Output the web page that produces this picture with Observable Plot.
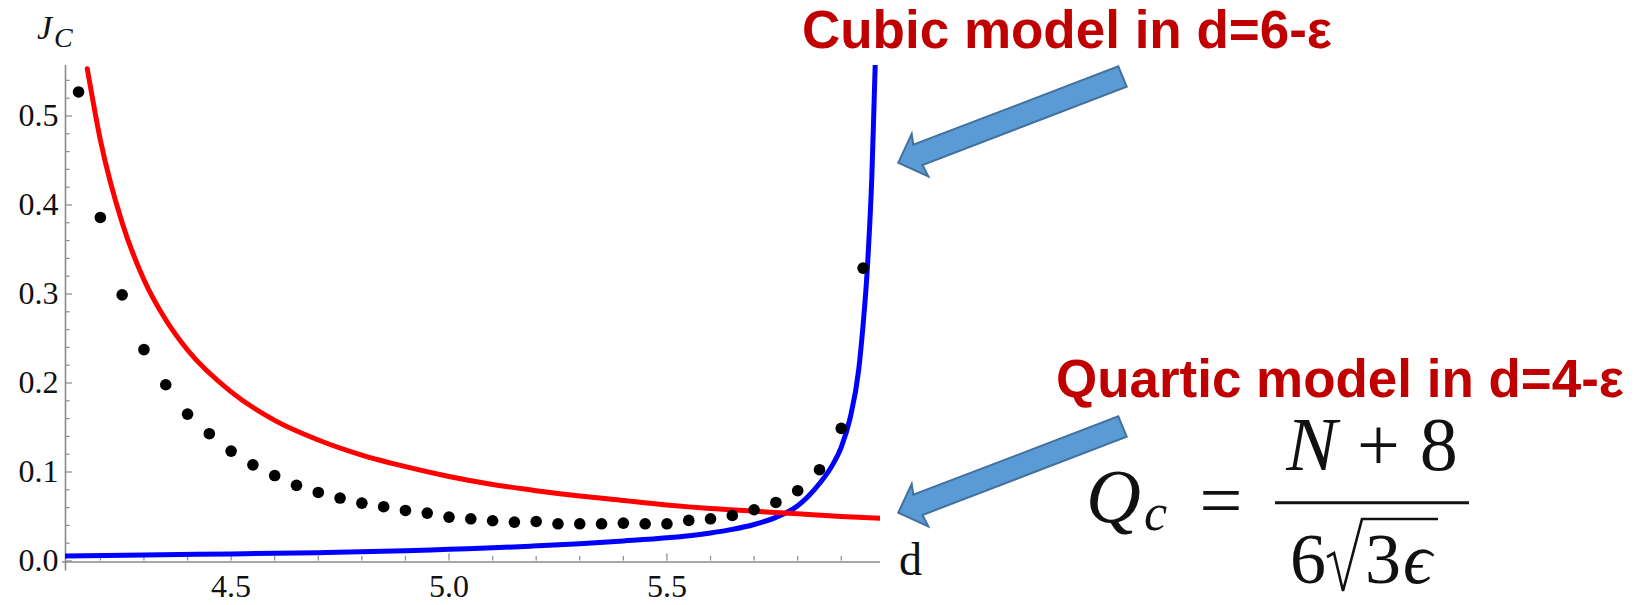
<!DOCTYPE html>
<html>
<head>
<meta charset="utf-8">
<script src="https://cdn.jsdelivr.net/npm/d3@7"></script>
<script src="https://cdn.jsdelivr.net/npm/@observablehq/plot@0.6"></script>
<style>
  html, body { margin: 0; padding: 0; background: #fff; }
  #wrap { position: relative; width: 1645px; height: 605px; overflow: hidden; }
  #wrap svg { position: absolute; left: 0; top: 0; }
  .math, .math tspan { font-family: "Liberation Serif", "DejaVu Serif", serif; }
</style>
</head>
<body>
<div id="wrap"></div>
<script>
// ---- data ----
const dotD = [4.15, 4.20, 4.25, 4.30, 4.35, 4.40, 4.45, 4.50, 4.55, 4.60, 4.65, 4.70, 4.75, 4.80, 4.85, 4.90,
              4.95, 5.00, 5.05, 5.10, 5.15, 5.20, 5.25, 5.30, 5.35, 5.40, 5.45, 5.50, 5.55, 5.60, 5.65, 5.70,
              5.75, 5.80, 5.85, 5.90, 5.95];
const dotJ = [0.527, 0.386, 0.299, 0.2375, 0.198, 0.165, 0.143, 0.1235, 0.108, 0.096, 0.085, 0.077, 0.0707, 0.065, 0.061, 0.0568,
              0.0538, 0.0493, 0.0474, 0.0452, 0.0437, 0.0444, 0.0418, 0.0418, 0.0418, 0.0425, 0.0418, 0.0418, 0.0456, 0.0474, 0.0512, 0.0576,
              0.0658, 0.079, 0.1026, 0.149, 0.329];

const redD = [4.17, 4.20, 4.25, 4.30, 4.35, 4.40, 4.50, 4.60, 4.70, 4.80, 4.90, 5.00, 5.10, 5.20, 5.30, 5.40, 5.50, 5.60, 5.70, 5.80, 5.90, 5.99];
const redJ = [0.553, 0.473, 0.380, 0.316, 0.271, 0.237, 0.190, 0.158, 0.136, 0.119, 0.106, 0.095, 0.086, 0.079, 0.073, 0.068, 0.063, 0.059, 0.056, 0.053, 0.050, 0.048];

const blueD = [4.12, 4.30, 4.50, 4.70, 4.90, 5.00, 5.10, 5.20, 5.30, 5.40, 5.50, 5.60, 5.65, 5.70, 5.75, 5.80, 5.85, 5.88, 5.90, 5.92, 5.94, 5.95, 5.96, 5.965, 5.97, 5.975, 5.978];
const blueJ = [0.0055, 0.0068, 0.0080, 0.0094, 0.0115, 0.0132, 0.0148, 0.0170, 0.0195, 0.0225, 0.0260, 0.0315, 0.0355, 0.0410, 0.0490, 0.0620, 0.0870, 0.1080, 0.1280, 0.1600, 0.2150, 0.2650, 0.3300, 0.3750, 0.4300, 0.5100, 0.5600];

const xMajor = [4.5, 5.0, 5.5];
const xMinor = [4.2, 4.3, 4.4, 4.6, 4.7, 4.8, 4.9, 5.1, 5.2, 5.3, 5.4, 5.6, 5.7, 5.8, 5.9];
const yMajor = [0.0, 0.1, 0.2, 0.3, 0.4, 0.5];
const yMinor = [0.02, 0.04, 0.06, 0.08, 0.12, 0.14, 0.16, 0.18, 0.22, 0.24, 0.26, 0.28, 0.32, 0.34, 0.36, 0.38, 0.42, 0.44, 0.46, 0.48, 0.52, 0.54];
const xDomain = [4.12, 5.99];
const yDomain = [0, 0.5567];

const title1 = "Cubic model in d=6-ε";
const title2 = "Quartic model in d=4-ε";

// ---- layout ----
const W = 1645, H = 605;
const mL = 65, mR = W - 880, mT = 65, mB = H - 560.5;
const frameW = W - mL - mR, frameH = H - mT - mB;
const axisGray = "#8a8a8a";
const fmt = d3.format(".1f");

const dots = dotD.map((d, i) => ({d, j: dotJ[i]}));
const red = redD.map((d, i) => ({d, j: redJ[i]}));
const blue = blueD.map((d, i) => ({d, j: blueJ[i]}));

const chart = Plot.plot({
  width: W, height: H,
  marginLeft: mL, marginRight: mR, marginTop: mT, marginBottom: mB,
  x: {domain: xDomain, axis: null},
  y: {domain: yDomain, axis: null},
  style: {fontFamily: "Liberation Serif", fontSize: "32px", color: "#111", background: "transparent", overflow: "visible"},
  marks: [
    // axis lines
    Plot.ruleY([0], {stroke: axisGray, strokeWidth: 1.6, dy: 1, insetLeft: -3}),
    Plot.ruleX([xDomain[0]], {stroke: axisGray, strokeWidth: 1.6, insetBottom: -10}),
    // inward ticks
    Plot.ruleX(xMinor, {x: d => d, stroke: axisGray, strokeWidth: 1.2, insetTop: frameH - 4.5}),
    Plot.ruleX(xMajor, {x: d => d, stroke: axisGray, strokeWidth: 1.2, insetTop: frameH - 7}),
    Plot.ruleY(yMinor, {y: d => d, stroke: axisGray, strokeWidth: 1.2, insetRight: frameW - 4.5}),
    Plot.ruleY(yMajor, {y: d => d, stroke: axisGray, strokeWidth: 1.2, insetRight: frameW - 7}),
    // tick labels
    Plot.text(xMajor, {x: d => d, text: d => fmt(d), frameAnchor: "bottom", lineAnchor: "top", dy: 13, fontSize: 32}),
    Plot.text(yMajor, {y: d => d, text: d => fmt(d), frameAnchor: "left", textAnchor: "end", dx: -7, fontSize: 32}),
    // data
    Plot.line(blue, {x: "d", y: "j", stroke: "#0000ff", strokeWidth: 5, curve: "monotone-x", clip: "frame"}),
    Plot.line(red, {x: "d", y: "j", stroke: "#ff0000", strokeWidth: 5, curve: "monotone-x", clip: "frame"}),
    Plot.dot(dots, {x: "d", y: "j", r: 5.8, fill: "#000", stroke: null})
  ]
});
document.getElementById("wrap").appendChild(chart);

// ---- annotation overlay ----
const ns = "http://www.w3.org/2000/svg";
const ov = d3.select("#wrap").append("svg")
  .attr("xmlns", ns).attr("width", W).attr("height", H)
  .style("overflow", "visible");

// axis labels
const jc = ov.append("text").attr("class", "math").attr("x", 37).attr("y", 39)
  .attr("font-style", "italic").attr("fill", "#111");
jc.append("tspan").attr("font-size", 34).text("J");
jc.append("tspan").attr("font-size", 28).attr("dx", 2).attr("dy", 8).text("C");

ov.append("text").attr("class", "math").attr("x", 899).attr("y", 575)
  .attr("font-size", 46).attr("fill", "#111").text("d");

// red titles
ov.append("text").attr("x", 802).attr("y", 48)
  .attr("font-family", "Liberation Sans").attr("font-weight", "bold").attr("font-size", 53)
  .attr("fill", "#c00000").attr("textLength", 530).attr("lengthAdjust", "spacingAndGlyphs").text(title1);
ov.append("text").attr("x", 1056).attr("y", 397)
  .attr("font-family", "Liberation Sans").attr("font-weight", "bold").attr("font-size", 53)
  .attr("fill", "#c00000").attr("textLength", 568).attr("lengthAdjust", "spacingAndGlyphs").text(title2);

// block arrows (same shape, two positions)
const arrowShape = [[0, 0], [13.4, -28.7], [15, -18], [220, -96.3], [228.4, -76], [24.2, 2.3], [30, 13.7]];
[[898.3, 162.7], [898.3, 512.7]].forEach(([tx, ty]) => {
  ov.append("polygon")
    .attr("points", arrowShape.map(([a, b]) => `${tx + a},${ty + b}`).join(" "))
    .attr("fill", "#5b9bd5").attr("stroke", "#41719c").attr("stroke-width", 2).attr("stroke-linejoin", "miter");
});

// formula Q_c = (N+8)/(6√3ε)
const q = ov.append("text").attr("class", "math").attr("x", 1086).attr("y", 522).attr("fill", "#111");
q.append("tspan").attr("font-style", "italic").attr("font-size", 76).text("Q");
q.append("tspan").attr("font-style", "italic").attr("font-size", 52).attr("dx", 3).attr("dy", 8).text("c");
ov.append("text").attr("class", "math").attr("x", 1221).attr("y", 526).attr("text-anchor", "middle")
  .attr("font-size", 76).attr("fill", "#111").text("=");
ov.append("line").attr("x1", 1275).attr("x2", 1469).attr("y1", 502.7).attr("y2", 502.7)
  .attr("stroke", "#111").attr("stroke-width", 3);
const num = ov.append("text").attr("class", "math").attr("x", 1372).attr("y", 470).attr("text-anchor", "middle")
  .attr("font-size", 76).attr("fill", "#111");
num.append("tspan").attr("font-style", "italic").text("N");
num.append("tspan").attr("dx", 20).text("+");
num.append("tspan").attr("dx", 20).text("8");
ov.append("text").attr("class", "math").attr("x", 1290).attr("y", 583)
  .attr("font-size", 72).attr("fill", "#111").text("6");
ov.append("path").attr("d", "M1327,557 L1334,553 L1343,591 L1362,519 L1438,519")
  .attr("fill", "none").attr("stroke", "#111").attr("stroke-width", 2.6).attr("stroke-linejoin", "miter");
const den = ov.append("text").attr("class", "math").attr("x", 1365).attr("y", 583)
  .attr("font-size", 72).attr("fill", "#111");
den.append("tspan").text("3");
den.append("tspan").attr("font-style", "italic").attr("dx", 2).text("ϵ");
</script>
</body>
</html>
